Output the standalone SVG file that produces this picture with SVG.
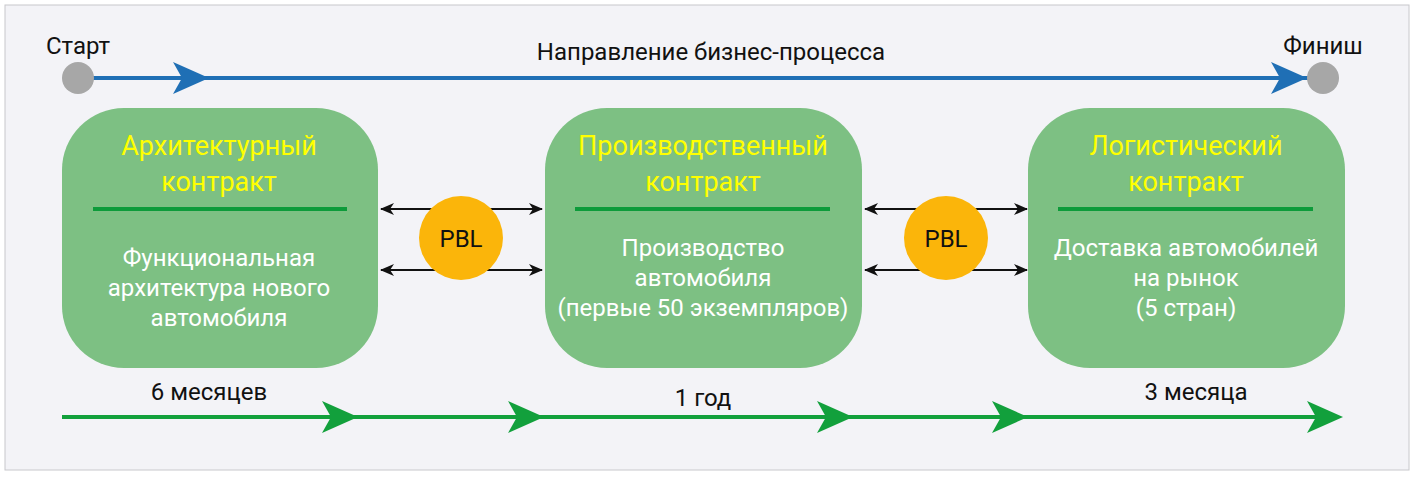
<svg xmlns="http://www.w3.org/2000/svg" width="1415" height="478" viewBox="0 0 1415 478">
<style>
text{font-family:"Liberation Sans Narrow",Roboto,sans-serif;text-anchor:middle}
.t{font-size:27px;fill:#ffff00}
.b{font-size:24px;fill:#fff}
.k{font-size:24px;fill:#111}
.box{fill:#7dc083}
.sep{stroke:#0d9b3a;stroke-width:4}
.bl{stroke:#111;stroke-width:2;marker-start:url(#ka);marker-end:url(#ka)}
</style>
<defs>
<marker id="ka" viewBox="0 0 14 12" refX="13" refY="6" markerWidth="14" markerHeight="12" markerUnits="userSpaceOnUse" orient="auto-start-reverse"><path d="M0,0 L14,6 L0,12 L4,6 Z" fill="#111"/></marker>
<path id="ga" d="M0,-16 L36,0 L0,16 L9,0 Z" fill="#12a03c"/>
<path id="ba" d="M0,-16 L36,0 L0,16 L9,0 Z" fill="#1f6fb5"/>
</defs>
<rect x="5" y="5" width="1404" height="465" fill="#f3f3f7" stroke="#c8c8cc"/>
<g id="connectors">
<line x1="78" y1="78" x2="1320" y2="78" stroke="#1f6fb5" stroke-width="4"/>
<use href="#ba" x="173" y="78"/><use href="#ba" x="1271" y="78"/>
<line x1="62" y1="417" x2="1335" y2="417" stroke="#12a03c" stroke-width="4"/>
<use href="#ga" x="322" y="417"/><use href="#ga" x="508" y="417"/><use href="#ga" x="817" y="417"/><use href="#ga" x="992" y="417"/><use href="#ga" x="1307" y="417"/>
<line class="bl" x1="381" y1="209" x2="542" y2="209"/>
<line class="bl" x1="381" y1="270" x2="542" y2="270"/>
<line class="bl" x1="865" y1="209" x2="1027" y2="209"/>
<line class="bl" x1="865" y1="270" x2="1027" y2="270"/>
</g>
<g id="start"><circle cx="78" cy="78" r="16" fill="#a7a7a7"/><text class="k" x="78" y="54">Старт</text></g>
<g id="finish"><circle cx="1323" cy="78" r="16" fill="#a7a7a7"/><text class="k" x="1323" y="54">Финиш</text></g>
<text class="k" x="711" y="60">Направление бизнес-процесса</text>
<g id="n1"><rect class="box" x="62" y="108" width="316" height="260" rx="62"/>
<text class="t" x="219" y="155">Архитектурный</text><text class="t" x="219" y="191">контракт</text>
<line class="sep" x1="93" y1="209" x2="347" y2="209"/>
<text class="b" x="219" y="266">Функциональная</text><text class="b" x="219" y="296">архитектура нового</text><text class="b" x="219" y="326">автомобиля</text></g>
<g id="n2"><rect class="box" x="545" y="108" width="317" height="260" rx="62"/>
<text class="t" x="703" y="155">Производственный</text><text class="t" x="703" y="191">контракт</text>
<line class="sep" x1="575" y1="209" x2="830" y2="209"/>
<text class="b" x="703" y="256">Производство</text><text class="b" x="703" y="286">автомобиля</text><text class="b" x="703" y="316">(первые 50 экземпляров)</text></g>
<g id="n3"><rect class="box" x="1028" y="108" width="317" height="260" rx="62"/>
<text class="t" x="1186" y="155">Логистический</text><text class="t" x="1186" y="191">контракт</text>
<line class="sep" x1="1058" y1="209" x2="1313" y2="209"/>
<text class="b" x="1186" y="256">Доставка автомобилей</text><text class="b" x="1186" y="286">на рынок</text><text class="b" x="1186" y="316">(5 стран)</text></g>
<g id="pbl1"><circle cx="461" cy="238" r="42" fill="#fbb50a"/><text class="k" x="461" y="247">PBL</text></g>
<g id="pbl2"><circle cx="946" cy="238" r="42" fill="#fbb50a"/><text class="k" x="946" y="247">PBL</text></g>
<text class="k" x="209" y="400">6 месяцев</text>
<text class="k" x="703" y="406">1 год</text>
<text class="k" x="1196" y="400">3 месяца</text>
</svg>
